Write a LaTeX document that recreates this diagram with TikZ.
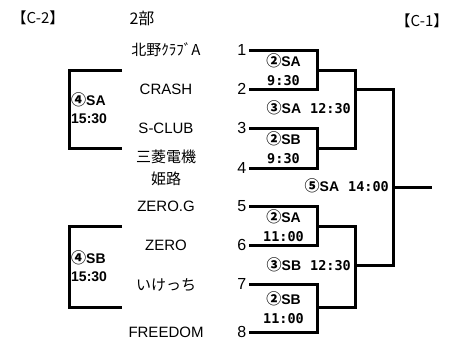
\documentclass[tikz,border=0pt]{standalone}
\usepackage{fontspec}
\setmainfont{Liberation Sans}
\newfontfamily\jpfont{Noto Sans CJK JP}
\newfontfamily\timefont{DejaVu Sans Mono}
\usetikzlibrary{calc,positioning}
\newcommand{\rnd}[1]{{\jpfont\bfseries\fontsize{15}{15}\selectfont #1}}
\newcommand{\tm}[1]{{\timefont\fontsize{13.5}{19}\selectfont #1}}

\begin{document}
\begin{tikzpicture}[
    x=1pt, y=-1pt,
    bracket/.style={line width=3pt},
    num/.style={anchor=east, inner sep=2.5pt, font=\fontsize{16}{16}\selectfont},
    team/.style={align=center, inner sep=0, font=\fontsize{15}{15}\selectfont},
    jteam/.style={align=center, inner sep=0, font=\jpfont\fontsize{15}{22}\selectfont},
    head/.style={inner sep=0, font=\jpfont\fontsize{15}{15}\selectfont},
    match/.style={align=center, inner sep=0, font=\bfseries\fontsize{14}{19}\selectfont},
    leftmatch/.style={align=left, anchor=west, inner sep=0, font=\bfseries\fontsize{14}{18}\selectfont}]
\useasboundingbox (0,0) rectangle (450,340);

\node[head] (c2) at (38,18) {【C-2】};
\node[head, font=\jpfont\fontsize{16}{16}\selectfont] (div) at (142,18) {2部};
\node[head] (c1) at (422,21) {【C-1】};

\foreach \i/\y in {1/50,2/89,3/128,4/168,5/206,6/245,7/284,8/332}{
  \coordinate (p\i) at (249,\y);
  \node[num] (n\i) at (p\i) {\i};
}

\node[jteam] (t1) at (166,50) {北野ｸﾗﾌﾞA};
\node[team] (t2) at (166,89) {CRASH};
\node[team] (t3) at (166,128) {S-CLUB};
\node[jteam] (t4) at (166,168) {三菱電機\\姫路};
\node[team] (t5) at (166,206) {ZERO.G};
\node[team] (t6) at (166,245) {ZERO};
\node[jteam] (t7) at (166,285) {いけっち};
\node[team] (t8) at (166,332) {FREEDOM};

\coordinate (w12) at (317,70);
\coordinate (w34) at (317,148);
\coordinate (w56) at (317,226);
\coordinate (w78) at (317,307);
\coordinate (s14) at (355,89);
\coordinate (s58) at (355,265);
\coordinate (f14) at (393,89);
\coordinate (f58) at (393,265);
\coordinate (champ) at (432,187);

\draw[bracket] (p1) -| (w12) |- (p2);
\draw[bracket] (p3) -| (w34) |- (p4);
\draw[bracket] (p5) -| (w56) |- (p6);
\draw[bracket] (p7) -| (w78) |- (p8);
\draw[bracket] (w12) -| (s14) |- (w34);
\draw[bracket] (w56) -| (s58) |- (w78);
\draw[bracket] (s14) -- (f14) -- (f58) -- (s58);
\draw[bracket] (f14 |- champ) -- (champ);

\coordinate (la1) at (122,70);
\coordinate (lm1) at (69,109);
\coordinate (lb1) at (122,148);
\coordinate (la2) at (122,226);
\coordinate (lm2) at (69,266);
\coordinate (lb2) at (122,307);
\draw[bracket] (la1) -| (lm1) |- (lb1);
\draw[bracket] (la2) -| (lm2) |- (lb2);

\node[match] (m12) at (283.5,69.5) {\rnd{②}SA\\\tm{9:30}};
\node[match] (m34) at (283.5,148) {\rnd{②}SB\\\tm{9:30}};
\node[match] (m56) at (283.5,225.5) {\rnd{②}SA\\\tm{11:00}};
\node[match] (m78) at (283.5,308) {\rnd{②}SB\\\tm{11:00}};
\node[match, anchor=east] (m14) at (351,108) {\rnd{③}SA\hspace{9pt}\tm{12:30}};
\node[match, anchor=east] (m58) at (351,265) {\rnd{③}SB\hspace{9pt}\tm{12:30}};
\node[match, anchor=east] (fin) at (389,186) {\rnd{⑤}SA\hspace{9pt}\tm{14:00}};

\node[leftmatch] (q1) at (71,108) {\rnd{④}SA\\15:30};
\node[leftmatch] (q2) at (71,266) {\rnd{④}SB\\15:30};
\end{tikzpicture}
\end{document}
